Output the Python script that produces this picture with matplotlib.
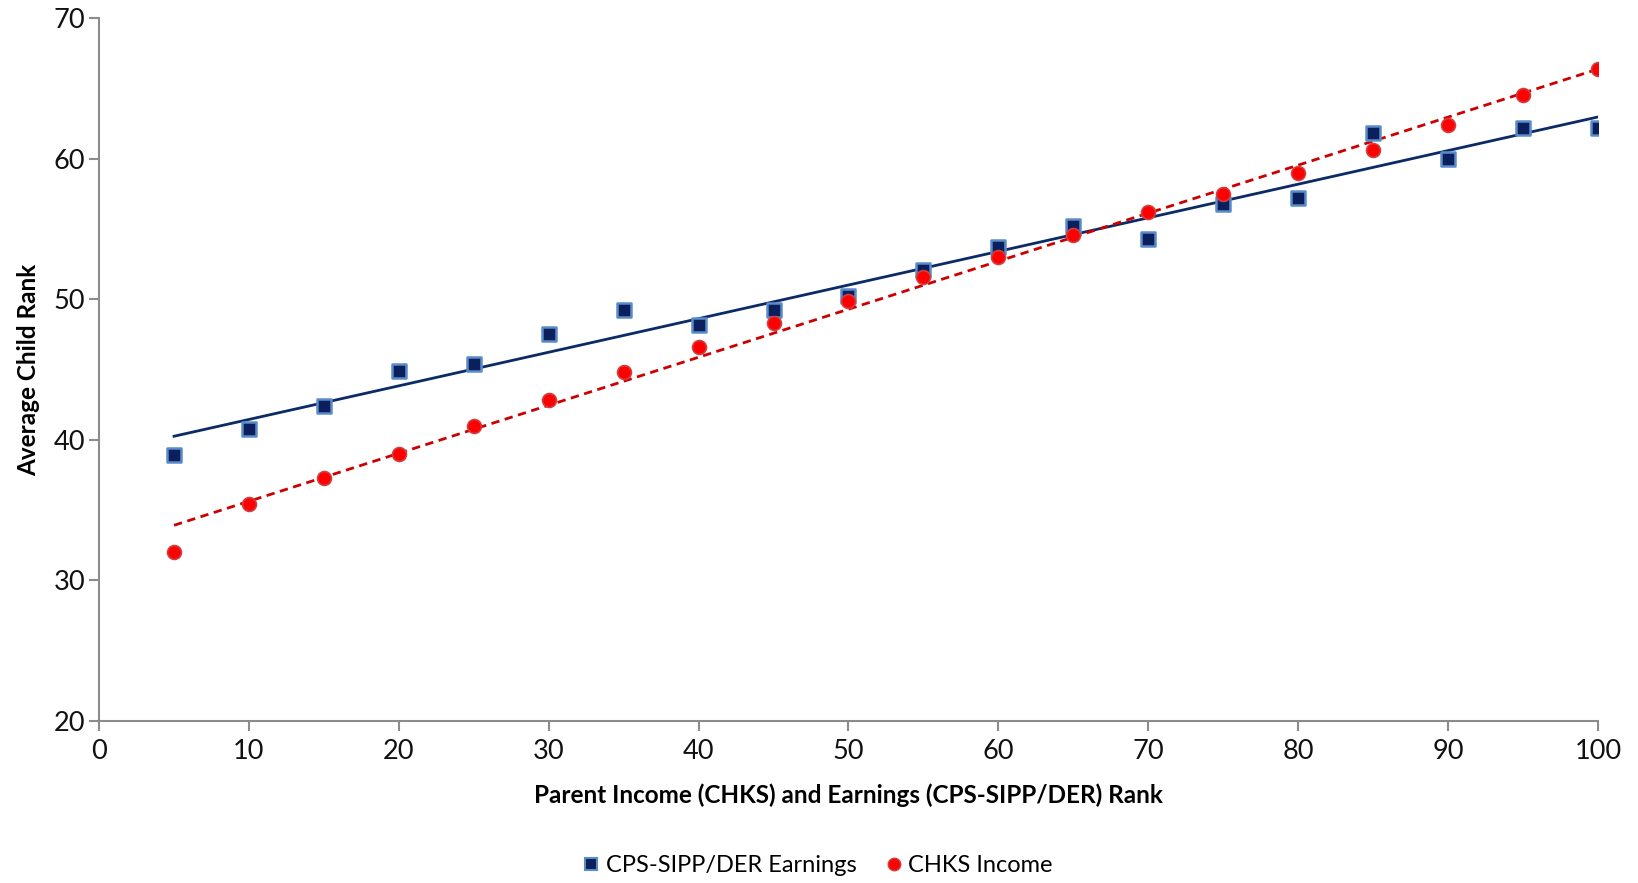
import numpy as np
import matplotlib
matplotlib.use("Agg")
import matplotlib.pyplot as plt
from matplotlib.lines import Line2D

parent_rank = [5, 10, 15, 20, 25, 30, 35, 40, 45, 50, 55, 60, 65, 70, 75, 80, 85, 90, 95, 100]
cps_earnings = [38.9, 40.8, 42.4, 44.9, 45.4, 47.5, 49.2, 48.2, 49.2, 50.2,
                52.1, 53.7, 55.2, 54.3, 56.8, 57.2, 61.8, 60.0, 62.2, 62.2]
chks_income = [32.0, 35.4, 37.3, 39.0, 41.0, 42.8, 44.8, 46.6, 48.3, 49.9,
               51.6, 53.0, 54.6, 56.2, 57.5, 59.0, 60.6, 62.4, 64.5, 66.4]
x_ticks = [0, 10, 20, 30, 40, 50, 60, 70, 80, 90, 100]
y_ticks = [20, 30, 40, 50, 60, 70]

plt.rcParams['font.family'] = ['Lato', 'DejaVu Sans']

fig = plt.figure(figsize=(16.38, 8.83), dpi=100)
ax = fig.add_axes([0.0605, 0.1835, 0.915, 0.796])

x = np.array(parent_rank, dtype=float)
b = np.array(cps_earnings)
r = np.array(chks_income)

navy = '#0b2a66'
navy_fill = '#0a1f5c'
blue_edge = '#5b8cc8'

# trend lines
pb = np.polyfit(x, b, 1)
pr = np.polyfit(x, r, 1)
xl = np.array([x.min(), x.max()])
ax.plot(xl, np.polyval(pb, xl), color=navy, lw=2.0, zorder=2)
ax.plot(xl, np.polyval(pr, xl), color='#cc0000', lw=2.0, ls=(0, (3, 2)), zorder=2)

ax.scatter(x, b, marker='s', s=90, c=navy_fill, edgecolors=blue_edge, linewidths=1.8, zorder=3)
ax.scatter(x, r, marker='o', s=100, c='#ff0000', edgecolors='#d04040', linewidths=1.2, zorder=4)

ax.set_xlim(0, 100)
ax.set_ylim(20, 70)
ax.set_xticks(x_ticks)
ax.set_yticks(y_ticks)

for side in ['top', 'right']:
    ax.spines[side].set_visible(False)
for side in ['left', 'bottom']:
    ax.spines[side].set_color('#8c8c8c')
    ax.spines[side].set_linewidth(1.5)
ax.tick_params(axis='both', direction='out', length=7, width=1.5, color='#8c8c8c',
               labelsize=19.5, labelcolor='#111111')
ax.tick_params(axis='y', pad=3)
ax.tick_params(axis='x', pad=6)

ax.set_xlabel('Parent Income (CHKS) and Earnings (CPS-SIPP/DER) Rank',
              fontsize=17.5, fontweight='bold', labelpad=14)
ax.set_ylabel('Average Child Rank', fontsize=17.5, fontweight='bold', labelpad=10)

handles = [
    Line2D([], [], ls='none', marker='s', markersize=9, markerfacecolor=navy_fill,
           markeredgecolor=blue_edge, markeredgewidth=1.5),
    Line2D([], [], ls='none', marker='o', markersize=9, markerfacecolor='#ff0000',
           markeredgecolor='#d04040', markeredgewidth=1.0),
]
fig.legend(handles, ['CPS-SIPP/DER Earnings', 'CHKS Income'], loc='center',
           bbox_to_anchor=(0.499, 0.02), ncol=2, frameon=False, fontsize=17,
           handlelength=0.8, handletextpad=0.2, columnspacing=1.2)

fig.savefig('out.png', dpi=100)
